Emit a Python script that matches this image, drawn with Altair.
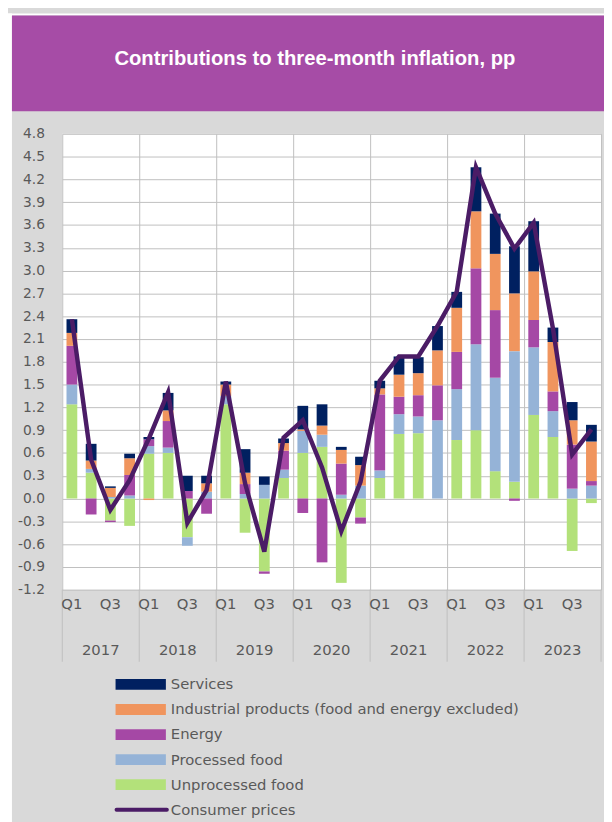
import altair as alt
import pandas as pd

title_text = "Contributions to three-month inflation, pp"
years = ["2017", "2018", "2019", "2020", "2021", "2022", "2023"]
quarter_names = ["Q1", "Q2", "Q3", "Q4"]
quarter_ticks = ["Q1", "", "Q3", ""]

series_names = ["Unprocessed food", "Processed food", "Energy",
                "Industrial products (food and energy excluded)", "Services"]
series_colors = ["#B3E17A", "#95B3D7", "#A548A5", "#F0955E", "#002060"]

unprocessed = [1.24, 0.34, -0.29, -0.36, 0.59, 0.60, -0.51, 0.00,
               1.24, -0.45, -0.96, 0.27, 0.60, 0.68, -1.11, -0.25,
               0.27, 0.85, 0.86, 0.00, 0.77, 0.90, 0.36, 0.22,
               1.10, 0.81, -0.69, -0.06]
processed = [0.26, 0.05, 0.02, 0.04, 0.10, 0.07, -0.11, 0.09,
             0.11, 0.06, 0.18, 0.11, 0.29, 0.16, 0.05, 0.17,
             0.10, 0.26, 0.22, 1.03, 0.67, 1.13, 1.23, 1.72,
             0.89, 0.34, 0.13, 0.17]
energy = [0.51, -0.21, -0.02, 0.27, 0.09, 0.35, 0.10, -0.20,
          0.00, 0.13, -0.03, 0.25, -0.19, -0.84, 0.41, -0.08,
          1.00, 0.23, 0.28, 0.46, 0.49, 1.00, 0.89, -0.03,
          0.36, 0.26, 0.58, 0.06]
industrial = [0.17, 0.11, 0.12, 0.22, -0.02, 0.14, 0.00, 0.11,
              0.15, 0.15, 0.00, 0.10, 0.02, 0.12, 0.18, 0.27,
              0.08, 0.29, 0.29, 0.46, 0.58, 0.75, 0.74, 0.76,
              0.64, 0.65, 0.32, 0.52]
services = [0.18, 0.22, 0.02, 0.06, 0.03, 0.23, 0.20, 0.10,
            0.04, 0.31, 0.11, 0.06, 0.31, 0.28, 0.04, 0.11,
            0.10, 0.24, 0.21, 0.32, 0.21, 0.58, 0.53, 0.62,
            0.66, 0.19, 0.24, 0.22]
consumer_prices = [2.36, 0.51, -0.15, 0.24, 0.79, 1.40, -0.32, 0.11,
                   1.54, 0.20, -0.70, 0.80, 1.03, 0.41, -0.43, 0.22,
                   1.55, 1.87, 1.87, 2.27, 2.72, 4.36, 3.75, 3.29,
                   3.63, 2.24, 0.58, 0.91]

legend_labels = ["Services", "Industrial products (food and energy excluded)",
                 "Energy", "Processed food", "Unprocessed food", "Consumer prices"]
legend_colors = ["#002060", "#F0955E", "#A548A5", "#95B3D7", "#B3E17A", "#4B1C66"]
legend_kinds = ["bar", "bar", "bar", "bar", "bar", "line"]

y_ticks = [v / 10 for v in range(-12, 49, 3)]

# ---------- tables ----------
n = len(consumer_prices)
periods = [f"{y} {q}" for y in years for q in quarter_names]
rows = []
for s_i, (name, vals) in enumerate(zip(series_names,
                                       [unprocessed, processed, energy, industrial, services])):
    for i, v in enumerate(vals):
        rows.append({"idx": i, "period": periods[i], "series": name, "ord": s_i, "value": v})
bars_df = pd.DataFrame(rows)
cpi_df = pd.DataFrame({"idx": list(range(n)), "period": periods, "cpi": consumer_prices})
qt_df = pd.DataFrame({"idx": list(range(n)), "tick": [quarter_ticks[i % 4] for i in range(n)]})
year_df = pd.DataFrame({"yi": list(range(len(years))), "year": years})
sep_df = pd.DataFrame({"yi": list(range(len(years) + 1))})
leg_df = pd.DataFrame({"k": list(range(len(legend_labels))), "label": legend_labels,
                       "col": legend_colors, "kind": legend_kinds})
one = pd.DataFrame({"a": [0]})

# ---------- styling ----------
W, H = 546, 462
grid = "#BFBFBF"
txt = "#595959"
font = "DejaVu Sans"
xs = alt.Scale(domain=[0, n], nice=False, zero=False)
ys = alt.Scale(domain=[-1.2, 4.8], nice=False, zero=False)

white_left = alt.Chart(one).mark_rect(color="white").encode(
    x=alt.value(-55), x2=alt.value(-51), y=alt.value(-122), y2=alt.value(740))
white_top = alt.Chart(one).mark_rect(color="white").encode(
    x=alt.value(-55), x2=alt.value(560), y=alt.value(-122), y2=alt.value(-120))
header = alt.Chart(one).mark_rect(color="#A64CA6").encode(
    x=alt.value(-51), x2=alt.value(560), y=alt.value(-120), y2=alt.value(-23))
title = alt.Chart(one).mark_text(
    text=title_text, font="Liberation Sans", fontWeight="bold", fontSize=20.5, color="white",
    align="center", baseline="middle").encode(x=alt.value(256), y=alt.value(-76))

bars = alt.Chart(bars_df).transform_stack(
    stack="value", groupby=["idx"], as_=["y0", "y1"],
    sort=[alt.SortField("ord", order="ascending")], offset="zero"
).transform_calculate(
    x0="datum.idx + 0.22", x1="datum.idx + 0.78"
).mark_rect().encode(
    x=alt.X("x0:Q", scale=xs, axis=alt.Axis(
        values=list(range(n + 1)), labels=False, ticks=False, domain=False,
        grid=True, gridColor=grid, gridWidth=1, title=None)),
    x2="x1:Q",
    y=alt.Y("y0:Q", scale=ys, axis=alt.Axis(
        values=y_ticks,
        labelExpr="datum.value < 0 ? '-' + format(-datum.value, '.1f') : format(datum.value, '.1f')",
        ticks=False, tickSize=0, domain=False, grid=True, gridColor=grid, gridWidth=1,
        labelPadding=18, labelFont=font, labelFontSize=14, labelColor=txt, title=None)),
    y2="y1:Q",
    color=alt.Color("series:N", scale=alt.Scale(domain=series_names, range=series_colors),
                    legend=None),
)

line = alt.Chart(cpi_df).transform_calculate(xc="datum.idx + 0.5").mark_line(
    color="#4B1C66", strokeWidth=4.5, strokeJoin="miter"
).encode(x=alt.X("xc:Q", scale=xs), y=alt.Y("cpi:Q", scale=ys, axis=None))

seps = alt.Chart(sep_df).transform_calculate(xb="datum.yi * 4").mark_rule(
    color=grid, strokeWidth=1
).encode(x=alt.X("xb:Q", scale=xs), y=alt.value(H), y2=alt.value(H + 73))

qlab = alt.Chart(qt_df).transform_filter("datum.tick != ''").transform_calculate(
    xc="datum.idx + 0.5").mark_text(
    font=font, fontSize=15, color=txt, baseline="middle", align="center"
).encode(x=alt.X("xc:Q", scale=xs), y=alt.value(H + 15), text="tick:N")

ylab = alt.Chart(year_df).transform_calculate(xc="datum.yi * 4 + 2").mark_text(
    font=font, fontSize=15, color=txt, baseline="middle", align="center"
).encode(x=alt.X("xc:Q", scale=xs), y=alt.value(H + 61), text="year:N")

ly = alt.Scale(domain=[0, len(legend_labels) - 1], range=[558, 685])
leg_bar = alt.Chart(leg_df).transform_filter("datum.kind == 'bar'").mark_rule(
    strokeWidth=11, strokeCap="butt"
).encode(x=alt.value(54), x2=alt.value(105), y=alt.Y("k:Q", scale=ly, axis=None),
         color=alt.Color("col:N", scale=None))
leg_line = alt.Chart(leg_df).transform_filter("datum.kind == 'line'").mark_rule(
    strokeWidth=4, strokeCap="round"
).encode(x=alt.value(55), x2=alt.value(106), y=alt.Y("k:Q", scale=ly, axis=None),
         color=alt.Color("col:N", scale=None))
leg_txt = alt.Chart(leg_df).mark_text(
    font=font, fontSize=15, color=txt, align="left", baseline="middle"
).encode(x=alt.value(110), y=alt.Y("k:Q", scale=ly, axis=None), text="label:N")

chart = alt.layer(
    white_left, white_top, header, title, bars, line, seps, qlab, ylab,
    leg_bar, leg_line, leg_txt
).resolve_scale(y="independent").properties(
    width=W, height=H,
    autosize=alt.AutoSizeParams(type="none"),
    padding={"left": 55, "top": 122, "right": 3, "bottom": 238},
    background="#D9D9D9",
).configure_view(fill="white", stroke=None)

chart.save("out.html", embed_options={"renderer": "svg", "actions": False})
